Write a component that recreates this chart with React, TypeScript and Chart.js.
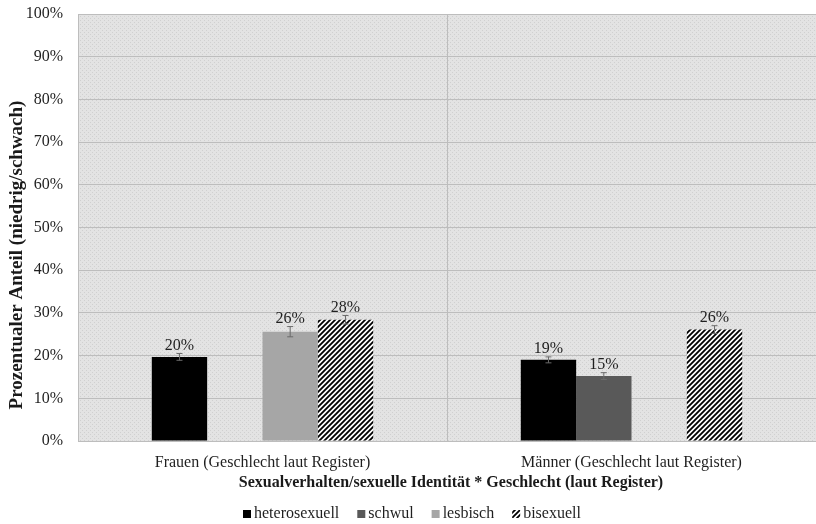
import React, { useEffect, useRef } from 'react';
import { Chart, registerables } from 'chart.js';

Chart.register(...registerables);

const categories = ['Frauen (Geschlecht laut Register)', 'Männer (Geschlecht laut Register)'];
const seriesNames = ['heterosexuell', 'schwul', 'lesbisch', 'bisexuell'];
const hetero = [19.7, 19.0];
const schwul = [null, 15.2];
const lesbisch = [25.6, null];
const bisexuell = [28.4, 26.1];
const heteroErr = [0.8, 0.7];
const schwulErr = [null, 0.8];
const lesbischErr = [1.2, null];
const bisexuellErr = [1.0, 0.9];
const yTicks = [0, 10, 20, 30, 40, 50, 60, 70, 80, 90, 100];
const yTitle = 'Prozentualer Anteil (niedrig/schwach)';
const xTitle = 'Sexualverhalten/sexuelle Identität * Geschlecht (laut Register)';

const FONT = '"Liberation Serif", "Times New Roman", serif';

function makeHatch(): CanvasPattern | string {
  const s = 5;
  const c = document.createElement('canvas');
  c.width = s;
  c.height = s;
  const g = c.getContext('2d');
  if (!g) return '#000';
  g.fillStyle = '#ffffff';
  g.fillRect(0, 0, s, s);
  g.strokeStyle = '#000000';
  g.lineWidth = 1.8;
  g.beginPath();
  for (let k = -1; k <= 1; k++) {
    g.moveTo(k * s - 1, s + 1);
    g.lineTo(k * s + s + 1, -1);
  }
  g.stroke();
  const p = g.createPattern(c, 'repeat');
  return p || '#000';
}

function makeBg(): CanvasPattern | string {
  const c = document.createElement('canvas');
  c.width = 4;
  c.height = 4;
  const g = c.getContext('2d');
  if (!g) return '#e2e2e2';
  g.fillStyle = '#e3e3e3';
  g.fillRect(0, 0, 4, 4);
  g.fillStyle = '#d0d0d0';
  g.fillRect(0, 0, 1, 1);
  g.fillRect(2, 2, 1, 1);
  const p = g.createPattern(c, 'repeat');
  return p || '#e2e2e2';
}

export default function App() {
  const ref = useRef<HTMLCanvasElement | null>(null);
  useEffect(() => {
    if (!ref.current) return;
    const hatch = makeHatch();
    const bg = makeBg();
    const errs = [heteroErr, schwulErr, lesbischErr, bisexuellErr];
    const colors: any[] = ['#000000', '#595959', '#a6a6a6', hatch];

    const bgPlugin = {
      id: 'bgPlugin',
      beforeDraw(chart: any) {
        const { ctx, chartArea } = chart;
        ctx.save();
        ctx.fillStyle = bg;
        ctx.fillRect(chartArea.left, chartArea.top, chartArea.right - chartArea.left, chartArea.bottom - chartArea.top);
        ctx.restore();
      },
    };

    const textPlugin = {
      id: 'textPlugin',
      afterDraw(chart: any) {
        const { ctx, chartArea } = chart;
        ctx.save();
        // y title
        ctx.save();
        ctx.translate(17, 255);
        ctx.rotate(-Math.PI / 2);
        ctx.fillStyle = '#1a1a1a';
        ctx.font = 'bold 19px ' + FONT;
        ctx.textAlign = 'center';
        ctx.textBaseline = 'middle';
        ctx.fillText(yTitle, 0, 0);
        ctx.restore();
        // x title
        ctx.fillStyle = '#1a1a1a';
        ctx.font = 'bold 16px ' + FONT;
        ctx.textAlign = 'center';
        ctx.textBaseline = 'middle';
        ctx.fillText(xTitle, (chartArea.left + chartArea.right) / 2 + 4, 483);
        // legend
        ctx.font = '16px ' + FONT;
        ctx.textAlign = 'left';
        let x = 243;
        const ly = 514;
        seriesNames.forEach((name, i) => {
          ctx.fillStyle = colors[i];
          ctx.fillRect(x, ly - 4, 8, 8);
          ctx.fillStyle = '#1f1f1f';
          ctx.fillText(name, x + 11, ly);
          x += 11 + ctx.measureText(name).width + 18;
        });
        ctx.restore();
      },
    };

    const labelPlugin = {
      id: 'labelPlugin',
      afterDatasetsDraw(chart: any) {
        const { ctx } = chart;
        const y = chart.scales.y;
        ctx.save();
        chart.data.datasets.forEach((ds: any, di: number) => {
          const meta = chart.getDatasetMeta(di);
          meta.data.forEach((bar: any, i: number) => {
            const v = ds.data[i];
            if (v === null || v === undefined) return;
            const e = errs[di][i] || 0;
            const yTop = y.getPixelForValue(v + e);
            const yBot = y.getPixelForValue(v - e);
            ctx.strokeStyle = '#6a6a6a';
            ctx.lineWidth = 1;
            ctx.beginPath();
            ctx.moveTo(bar.x, yTop);
            ctx.lineTo(bar.x, yBot);
            ctx.moveTo(bar.x - 3, yTop);
            ctx.lineTo(bar.x + 3, yTop);
            ctx.moveTo(bar.x - 3, yBot);
            ctx.lineTo(bar.x + 3, yBot);
            ctx.stroke();
            ctx.fillStyle = '#1f1f1f';
            ctx.font = '16px ' + FONT;
            ctx.textAlign = 'center';
            ctx.textBaseline = 'bottom';
            ctx.fillText(Math.round(v) + '%', bar.x, yTop);
          });
        });
        ctx.restore();
      },
    };

    const chart = new Chart(ref.current, {
      type: 'bar',
      data: {
        labels: categories,
        datasets: [
          { label: seriesNames[0], data: hetero, backgroundColor: colors[0] },
          { label: seriesNames[1], data: schwul, backgroundColor: colors[1] },
          { label: seriesNames[2], data: lesbisch, backgroundColor: colors[2] },
          { label: seriesNames[3], data: bisexuell, backgroundColor: colors[3] },
        ],
      },
      options: {
        animation: false,
        responsive: false,
        maintainAspectRatio: false,
        layout: { padding: { top: 14, right: 0, left: 0, bottom: 53 } },
        datasets: { bar: { categoryPercentage: 0.6, barPercentage: 1.0 } },
        scales: {
          x: {
            grid: { color: '#bdbdbd', drawTicks: false, offset: true },
            border: { display: false },
            ticks: { color: '#1f1f1f', font: { family: FONT, size: 16 }, padding: 12, maxRotation: 0 },
            afterFit(axis: any) {
              axis.height = 30;
              axis.paddingLeft = 0;
              axis.paddingRight = 0;
            },
          },
          y: {
            min: 0,
            max: 100,
            afterBuildTicks(axis: any) {
              axis.ticks = yTicks.map((v) => ({ value: v }));
            },
            afterFit(axis: any) {
              axis.width = 78;
              axis.paddingTop = 0;
              axis.paddingBottom = 0;
            },
            grid: { color: '#bdbdbd', drawTicks: false },
            border: { display: false },
            ticks: {
              color: '#1f1f1f',
              font: { family: FONT, size: 16 },
              padding: 15,
              callback: (v: any) => v + '%',
            },
          },
        },
        plugins: {
          legend: { display: false },
          tooltip: { enabled: false },
        },
      },
      plugins: [bgPlugin, labelPlugin, textPlugin],
    } as any);
    return () => chart.destroy();
  }, []);
  return (
    <div style={{ position: 'fixed', left: 0, top: 0, width: 816, height: 524, background: '#fff' }}>
      <canvas ref={ref} width={816} height={524} />
    </div>
  );
}
